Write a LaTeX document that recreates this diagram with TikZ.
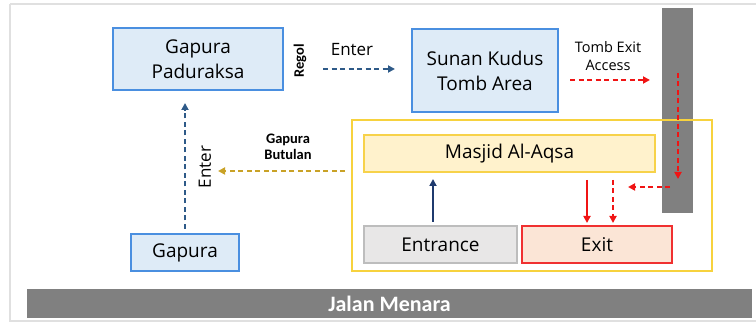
\documentclass[tikz,border=0pt]{standalone}
\usepackage{fontspec}
\setmainfont{Open Sans}
\newfontfamily\labelfont{Carlito}
\usetikzlibrary{arrows.meta}
\definecolor{boxblue}{HTML}{DEEBF7}
\definecolor{edgeblue}{HTML}{4A8FE0}
\definecolor{pathblue}{HTML}{2E5A88}
\definecolor{navy}{HTML}{1F3A6E}
\definecolor{areayellow}{HTML}{F7D23E}
\definecolor{mosquefill}{HTML}{FFF2CC}
\definecolor{mosqueedge}{HTML}{F7D24A}
\definecolor{gatefill}{HTML}{E8E7E7}
\definecolor{gateedge}{HTML}{BDBDBD}
\definecolor{exitfill}{HTML}{FBE5D6}
\definecolor{exitred}{HTML}{F03030}
\definecolor{routered}{HTML}{F01414}
\definecolor{gold}{HTML}{C9A227}
\definecolor{road}{HTML}{808080}
\tikzset{
  box/.style={draw, line width=1.3pt, inner sep=0pt, align=center, font=\fontsize{19}{25}\selectfont},
  bluebox/.style={box, fill=boxblue, draw=edgeblue},
  tip/.style={-{Triangle[length=7pt,width=7pt]}},
  dashline/.style={dash pattern=on 5pt off 3.5pt, line width=1.8pt},
  smallbold/.style={font=\labelfont\bfseries\fontsize{14.5}{16}\selectfont, align=center},
}
\begin{document}
\begin{tikzpicture}[x=1pt, y=-1pt]
\useasboundingbox (0,0) rectangle (756,323);
% page frame
\draw[draw=black!12, line width=1.5pt] (10,4) -- (760,4);
\draw[draw=black!12, line width=1.5pt] (10,4) -- (10,321) -- (760,321);

% roads
\node[fill=road, minimum width=725pt, minimum height=29pt, inner sep=0pt,
      text=white, font=\labelfont\bfseries\fontsize{22}{24}\selectfont]
      (road) at (389.5,303.5) {Jalan Menara};
\node[fill=road, minimum width=31pt, minimum height=205pt, inner sep=0pt] (lane) at (677.5,110.5) {};

% mosque compound
\node[draw=areayellow, line width=1.5pt, minimum width=360pt, minimum height=151pt, inner sep=0pt]
      (compound) at (532,195.5) {};

% buildings and gates
\node[bluebox, minimum width=170pt, minimum height=62pt] (paduraksa) at (198,59) {Gapura\\Paduraksa};
\node[bluebox, minimum width=146pt, minimum height=83pt] (tomb) at (485,70.5) {Sunan Kudus\\Tomb Area};
\node[bluebox, minimum width=108pt, minimum height=37pt] (gapura) at (185,252.5) {Gapura};
\node[box, fill=mosquefill, draw=mosqueedge, minimum width=291pt, minimum height=37pt] (masjid) at (509.5,153.5) {Masjid Al-Aqsa};
\node[box, fill=gatefill, draw=gateedge, minimum width=153pt, minimum height=37pt] (entrance) at (440.5,244.5) {Entrance};
\node[box, fill=exitfill, draw=exitred, minimum width=150pt, minimum height=37pt] (exit) at (597,244.5) {Exit};

% route end points
\coordinate (regolA) at (323,69);
\coordinate (regolB) at (395,69);
\coordinate (tombA) at (570,80);
\coordinate (tombB) at (650,80);
\coordinate (laneA) at (678,73);
\coordinate (laneB) at (678,179);
\coordinate (sideA) at (670,187);
\coordinate (sideB) at (628,187);
\coordinate (butA) at (345,171);
\coordinate (butB) at (218,171);
\coordinate (upA) at (185,229);
\coordinate (upB) at (185,103);
\coordinate (inA) at (433,222);
\coordinate (inB) at (433,179);
\coordinate (outA) at (587,180);
\coordinate (outB) at (587,223);
\coordinate (out2A) at (613,180);
\coordinate (out2B) at (613,223);

% routes
\draw[pathblue, dashline, tip] (regolA) -- (regolB);
\draw[pathblue, dashline, tip] (upA) -- (upB);
\draw[routered, dashline, tip] (tombA) -- (tombB);
\draw[routered, dashline, tip] (laneA) -- (laneB);
\draw[routered, dashline, tip] (sideA) -- (sideB);
\draw[gold, dashline, tip] (butA) -- (butB);
\draw[navy, line width=2pt, tip] (inA) -- (inB);
\draw[routered, line width=1.8pt, tip] (outA) -- (outB);
\draw[routered, dashline, tip] (out2A) -- (out2B);

% labels
\node[font=\fontsize{17}{20}\selectfont] (enterTop) at (352,50) {Enter};
\node[smallbold, rotate=90] (regol) at (300,61) {Regol};
\node[font=\fontsize{14.5}{18}\selectfont, align=center] (exitAccess) at (608,56) {Tomb Exit\\Access};
\node[smallbold] (butulan) at (288,147) {Gapura\\Butulan};
\node[font=\fontsize{17}{20}\selectfont, rotate=90] (enterSide) at (205,167) {Enter};
\end{tikzpicture}
\end{document}
